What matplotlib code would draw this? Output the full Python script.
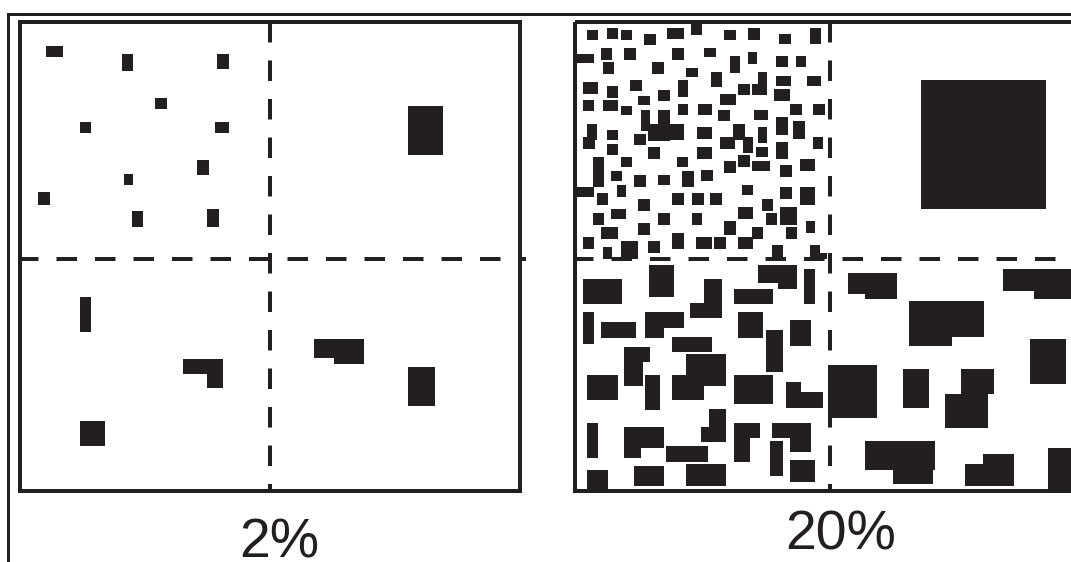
import matplotlib.pyplot as plt
from matplotlib.patches import Rectangle

plt.rcParams['lines.scale_dashes'] = False

INK = '#231f20'

# building footprints, (x0, y0, x1, y1) in picture pixels
# 2% panel
blocks_2pct = [
    (46, 46, 63, 57), (122, 54, 133, 71), (217, 54, 229, 69),
    (155, 98, 167, 109), (80, 122, 91, 133), (215, 122, 229, 133),
    (197, 160, 209, 175), (124, 174, 133, 185), (38, 192, 50, 205),
    (132, 211, 143, 227), (207, 209, 219, 227),
    (408, 106, 443, 155),
    (80, 297, 91, 332), (183, 359, 223, 374), (207, 374, 223, 388),
    (80, 421, 105, 446),
    (314, 339, 364, 358), (334, 358, 364, 364), (408, 367, 435, 406),
]

# 20% panel, fine grain (upper left)
blocks_20_fine = [
    (587, 30, 598, 40), (607, 28, 618, 39), (621, 30, 632, 40),
    (644, 34, 656, 45), (667, 28, 684, 39), (691, 22, 702, 35),
    (575, 54, 594, 63), (601, 48, 612, 60), (624, 48, 636, 60),
    (672, 48, 684, 60), (603, 62, 614, 74), (652, 62, 664, 74),
    (686, 68, 698, 77), (583, 82, 598, 94), (607, 86, 618, 98),
    (630, 80, 642, 91), (658, 90, 670, 101), (678, 80, 688, 97),
    (583, 100, 594, 111), (603, 100, 618, 111), (621, 106, 632, 115),
    (638, 96, 650, 105), (678, 104, 688, 115), (641, 110, 650, 131),
    (658, 110, 670, 125), (648, 124, 670, 141), (668, 124, 684, 140),
    (587, 124, 597, 140), (583, 137, 595, 149), (607, 130, 618, 140),
    (634, 134, 646, 145),
    (724, 30, 736, 40), (748, 28, 760, 40), (779, 34, 791, 44),
    (810, 28, 821, 44), (704, 48, 716, 57), (730, 56, 740, 73),
    (748, 52, 757, 64), (776, 56, 788, 67), (796, 56, 806, 67),
    (711, 72, 722, 87), (758, 72, 767, 95), (752, 84, 767, 95),
    (738, 84, 750, 95), (776, 76, 791, 86), (807, 76, 821, 86),
    (720, 94, 736, 105), (774, 89, 790, 101), (698, 104, 712, 115),
    (718, 110, 730, 121), (754, 110, 768, 120), (790, 104, 802, 115),
    (813, 104, 825, 115), (697, 127, 712, 139), (733, 124, 745, 140),
    (720, 137, 735, 149), (743, 137, 753, 153), (758, 127, 767, 143),
    (776, 117, 788, 135), (793, 121, 805, 139), (813, 137, 823, 149),
    (607, 144, 618, 155), (648, 147, 660, 159), (697, 147, 712, 159),
    (593, 157, 604, 187), (575, 187, 594, 197), (621, 157, 632, 167),
    (611, 171, 622, 181), (634, 175, 646, 187), (658, 175, 670, 185),
    (677, 157, 688, 167), (682, 171, 694, 187), (701, 170, 713, 181),
    (617, 185, 626, 197), (597, 193, 608, 205), (638, 199, 650, 211),
    (672, 193, 684, 205), (692, 193, 704, 205), (611, 209, 626, 219),
    (593, 213, 604, 225), (658, 213, 670, 225), (692, 213, 702, 225),
    (601, 227, 618, 239), (638, 223, 650, 235), (583, 237, 594, 249),
    (672, 233, 684, 249), (696, 237, 712, 249), (603, 247, 612, 259),
    (621, 241, 638, 259), (648, 241, 660, 253),
    (756, 147, 768, 157), (776, 142, 788, 159), (724, 161, 736, 173),
    (738, 155, 750, 167), (752, 161, 770, 171), (780, 165, 792, 177),
    (800, 159, 815, 171), (742, 185, 753, 195), (780, 187, 792, 199),
    (800, 187, 815, 205), (710, 193, 722, 205), (762, 199, 773, 211),
    (738, 207, 753, 219), (766, 213, 777, 225), (780, 207, 797, 225),
    (724, 221, 736, 235), (752, 227, 763, 239), (786, 227, 797, 239),
    (806, 221, 815, 233), (714, 237, 726, 249), (738, 237, 753, 249),
    (772, 245, 783, 259), (810, 245, 820, 259), (818, 253, 827, 259),
]

# 20% panel, one big block (upper right)
blocks_20_single = [(921, 80, 1046, 209)]

# 20% panel, medium grain (lower left)
blocks_20_medium = [
    (583, 279, 622, 304), (649, 265, 674, 297), (758, 265, 797, 283),
    (778, 283, 797, 289), (804, 269, 815, 304), (734, 289, 773, 304),
    (704, 279, 722, 318), (690, 303, 722, 318), (583, 312, 594, 344),
    (601, 322, 636, 338), (645, 312, 684, 328), (645, 328, 664, 338),
    (738, 312, 763, 338), (790, 320, 811, 346), (672, 337, 712, 352),
    (766, 330, 783, 372), (624, 347, 650, 362), (624, 362, 643, 386),
    (587, 375, 618, 400), (645, 375, 660, 410), (686, 354, 726, 386),
    (672, 375, 704, 400), (734, 375, 773, 404), (786, 392, 823, 408),
    (786, 382, 801, 392), (587, 423, 598, 458), (624, 427, 664, 448),
    (624, 448, 641, 458), (709, 409, 726, 442), (701, 427, 726, 442),
    (666, 446, 708, 462), (734, 423, 760, 438), (734, 438, 750, 462),
    (772, 423, 811, 438), (790, 438, 811, 452), (770, 441, 783, 476),
    (790, 460, 815, 482), (587, 470, 608, 491), (634, 466, 664, 486),
    (686, 464, 726, 486),
]

# 20% panel, coarse grain (lower right)
blocks_20_coarse = [
    (848, 273, 897, 294), (865, 294, 897, 299), (1003, 269, 1071, 291),
    (1034, 291, 1071, 299), (909, 301, 984, 337), (909, 337, 952, 346),
    (1030, 339, 1066, 384), (828, 365, 877, 418), (903, 369, 929, 408),
    (961, 369, 994, 394), (945, 394, 988, 428), (865, 441, 935, 470),
    (893, 470, 933, 484), (983, 454, 1014, 486), (965, 464, 1014, 486),
    (1048, 448, 1071, 491),
]

labels = ['2%', '20%']

fig = plt.figure(figsize=(10.71, 5.62), dpi=100)
ax = fig.add_axes([0, 0, 1, 1])
ax.set_xlim(0, 1071)
ax.set_ylim(562, 0)
ax.axis('off')

px = 0.72  # one pixel in points
dash = (0, (20.5 * px, 18 * px))

# outer frame
ax.plot([8, 1080], [14, 14], color=INK, lw=3 * px, solid_capstyle='projecting')
ax.plot([8, 8], [14, 570], color=INK, lw=3 * px, solid_capstyle='projecting')

# panel boxes and quadrant lines
panels = [(20, 519.5, 270, 279.5, 557), (575, 1090, 829.5, 841, 550)]
top, mid, bottom = 22.3, 258.5, 491.3
for (x0, x1, xd, xt, yt), lab in zip(panels, labels):
    ax.add_patch(Rectangle((x0, top), x1 - x0, bottom - top, fill=False,
                           ec=INK, lw=4 * px, joinstyle='miter', zorder=3))
    ax.plot([x0 - 2, min(x1 + 6, 1071)], [mid, mid], color=INK, lw=4 * px,
            linestyle=dash, zorder=3)
    ax.plot([xd, xd], [top, bottom], color=INK, lw=4 * px,
            linestyle=dash, zorder=3)
    ax.text(xt, yt, lab, ha='center', va='baseline', fontsize=40,
            family='Liberation Sans', color=INK)

for blocks in [blocks_2pct, blocks_20_fine, blocks_20_single,
               blocks_20_medium, blocks_20_coarse]:
    for x0, y0, x1, y1 in blocks:
        ax.add_patch(Rectangle((x0, y0), x1 - x0, y1 - y0, fc=INK, lw=0, zorder=2))

plt.savefig('out.png', dpi=100)
